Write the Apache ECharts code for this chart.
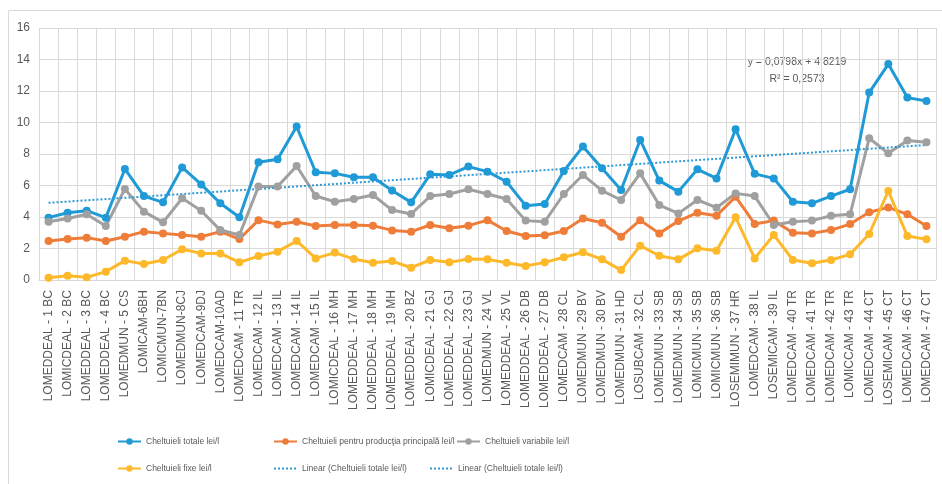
<!DOCTYPE html>
<html>
<head>
<meta charset="utf-8">
<script src="https://cdn.jsdelivr.net/npm/echarts@6/dist/echarts.min.js"></script>
<style>
  html, body { margin: 0; padding: 0; background: #fff; }
  #chart { width: 942px; height: 484px; }
</style>
</head>
<body>
<div id="chart"></div>
<script>
/* ---------------------------------------------------------------------- */
/*                      Cheltuieli lei/l pe ferme                          */
/* ---------------------------------------------------------------------- */

const farms = [
  'LOMEDDEAL - 1 BC', 'LOMICDEAL - 2 BC', 'LOMEDDEAL - 3 BC', 'LOMEDDEAL - 4 BC',
  'LOMEDMUN - 5 CS', 'LOMICAM-6BH', 'LOMICMUN-7BN', 'LOMEDMUN-8CJ', 'LOMEDCAM-9DJ',
  'LOMEDCAM-10AD', 'LOMEDCAM - 11 TR', 'LOMEDCAM - 12 IL', 'LOMEDCAM - 13 IL',
  'LOMEDCAM - 14 IL', 'LOMEDCAM - 15 IL', 'LOMICDEAL - 16 MH', 'LOMEDDEAL - 17 MH',
  'LOMEDDEAL - 18 MH', 'LOMEDDEAL - 19 MH', 'LOMEDDEAL - 20 BZ', 'LOMICDEAL - 21 GJ',
  'LOMEDDEAL - 22 GJ', 'LOMEDDEAL - 23 GJ', 'LOMEDMUN - 24 VL', 'LOMEDDEAL - 25 VL',
  'LOMEDDEAL - 26 DB', 'LOMEDDEAL - 27 DB', 'LOMEDCAM - 28 CL', 'LOMEDMUN - 29 BV',
  'LOMEDMUN - 30 BV', 'LOMEDMUN - 31 HD', 'LOSUBCAM - 32 CL', 'LOMEDMUN - 33 SB',
  'LOMEDMUN - 34 SB', 'LOMICMUN - 35 SB', 'LOMICMUN - 36 SB', 'LOSEMIMUN - 37 HR',
  'LOMEDCAM - 38 IL', 'LOSEMICAM - 39 IL', 'LOMEDCAM - 40 TR', 'LOMEDCAM - 41 TR',
  'LOMEDCAM - 42 TR', 'LOMICCAM - 43 TR', 'LOMEDCAM - 44 CT', 'LOSEMICAM - 45 CT',
  'LOMEDCAM - 46 CT', 'LOMEDCAM - 47 CT'
];

const totalCosts = [
  3.96, 4.27, 4.40, 3.96, 7.05, 5.33, 4.93, 7.15, 6.07, 4.87,
  3.98, 7.47, 7.66, 9.74, 6.84, 6.77, 6.52, 6.52, 5.68, 4.93,
  6.71, 6.67, 7.20, 6.88, 6.24, 4.72, 4.83, 6.92, 8.47, 7.09,
  5.71, 8.89, 6.31, 5.61, 7.03, 6.45, 9.57, 6.74, 6.45, 4.97,
  4.87, 5.33, 5.76, 11.90, 13.71, 11.58, 11.37
];

const mainProductionCosts = [
  2.48, 2.60, 2.69, 2.48, 2.75, 3.07, 2.96, 2.86, 2.75, 3.07,
  2.60, 3.80, 3.53, 3.70, 3.43, 3.49, 3.49, 3.45, 3.15, 3.07,
  3.49, 3.28, 3.45, 3.80, 3.11, 2.79, 2.84, 3.11, 3.91, 3.64,
  2.75, 3.80, 2.96, 3.74, 4.27, 4.08, 5.29, 3.56, 3.77, 3.00,
  2.96, 3.17, 3.55, 4.30, 4.61, 4.17, 3.43
];

const variableCosts = [
  3.70, 3.91, 4.17, 3.43, 5.78, 4.34, 3.66, 5.19, 4.40, 3.17,
  2.86, 5.93, 5.93, 7.24, 5.33, 4.97, 5.14, 5.40, 4.44, 4.19,
  5.33, 5.46, 5.76, 5.46, 5.14, 3.77, 3.70, 5.46, 6.67, 5.67,
  5.08, 6.77, 4.76, 4.23, 5.08, 4.59, 5.50, 5.33, 3.49, 3.70,
  3.77, 4.08, 4.17, 9.00, 8.04, 8.85, 8.74
];

const fixedCosts = [
  0.15, 0.27, 0.17, 0.53, 1.23, 1.02, 1.27, 1.95, 1.69, 1.69,
  1.12, 1.52, 1.80, 2.48, 1.37, 1.74, 1.33, 1.10, 1.20, 0.78,
  1.27, 1.12, 1.33, 1.31, 1.10, 0.89, 1.12, 1.44, 1.76, 1.31,
  0.63, 2.18, 1.54, 1.31, 2.01, 1.86, 3.98, 1.37, 2.86, 1.27,
  1.06, 1.27, 1.63, 2.92, 5.65, 2.79, 2.58
];

// linear trend of total costs, value at first and last farm
const trendStart = 4.90;
const trendEnd = 8.57;
const trendEquation = 'y = 0,0798x + 4,8219';
const trendR2 = 'R² = 0,2573';

const yTicks = { min: 0, max: 16, step: 2 };

const NAME_TOTAL = 'Cheltuieli totale lei/l';
const NAME_MAIN = 'Cheltuieli pentru producţia principală lei/l';
const NAME_VAR = 'Cheltuieli variabile lei/l';
const NAME_FIXED = 'Cheltuieli fixe lei/l';
const NAME_TREND = 'Linear (Cheltuieli totale lei/l)';

const textColor = '#595959';
const gridColor = '#d9d9d9';

const chart = echarts.init(document.getElementById('chart'));

const lineSeries = (name, data, color) => ({
  name,
  type: 'line',
  data,
  symbol: 'circle',
  symbolSize: 8,
  itemStyle: { color },
  lineStyle: { color, width: 3 },
  emphasis: { disabled: true }
});

const legendItem = (item, left, top) => ({
  data: [item],
  left,
  top,
  itemWidth: 23,
  itemHeight: 8,
  padding: 0,
  selectedMode: false,
  textStyle: {
    color: textColor,
    fontFamily: 'Liberation Sans',
    fontSize: 8.5
  }
});

// trend legend entry: dotted line only, no marker
const trendLegend = { name: NAME_TREND, itemStyle: { opacity: 0 } };

chart.setOption({
  animation: false,
  textStyle: { fontFamily: 'Liberation Sans' },
  grid: {
    left: 39,
    right: 6,
    top: 28,
    bottom: 204,
    containLabel: false
  },
  graphic: [
    {
      type: 'rect',
      shape: { x: 8.5, y: 10.5, width: 950, height: 490 },
      style: { fill: 'none', stroke: gridColor, lineWidth: 1 },
      silent: true,
      z: -1
    },
    {
      type: 'text',
      x: 797,
      y: 62,
      style: {
        text: trendEquation,
        fill: textColor,
        font: '10.5px "Liberation Sans"',
        align: 'center',
        verticalAlign: 'middle'
      }
    },
    {
      type: 'text',
      x: 797,
      y: 79,
      style: {
        text: trendR2,
        fill: textColor,
        font: '10.5px "Liberation Sans"',
        align: 'center',
        verticalAlign: 'middle'
      }
    }
  ],
  legend: [
    legendItem(NAME_TOTAL, 117, 437),
    legendItem(NAME_MAIN, 273, 437),
    legendItem(NAME_VAR, 456, 437),
    legendItem(NAME_FIXED, 117, 464),
    legendItem(trendLegend, 273, 464),
    legendItem(trendLegend, 429, 464)
  ],
  xAxis: {
    type: 'category',
    data: farms,
    boundaryGap: true,
    axisTick: { show: false },
    axisLine: { lineStyle: { color: gridColor, width: 1 } },
    splitLine: {
      show: true,
      interval: 0,
      lineStyle: { color: gridColor, width: 1 }
    },
    axisLabel: {
      interval: 0,
      rotate: 90,
      margin: 10,
      color: textColor,
      fontSize: 12,
      fontFamily: 'Liberation Sans'
    }
  },
  yAxis: {
    type: 'value',
    min: yTicks.min,
    max: yTicks.max,
    interval: yTicks.step,
    axisLine: { show: false },
    axisTick: { show: false },
    splitLine: { lineStyle: { color: gridColor, width: 1 } },
    axisLabel: {
      color: textColor,
      fontSize: 12,
      margin: 9,
      fontFamily: 'Liberation Sans'
    }
  },
  series: [
    lineSeries(NAME_TOTAL, totalCosts, '#1f9ad6'),
    lineSeries(NAME_MAIN, mainProductionCosts, '#ef7d3a'),
    lineSeries(NAME_VAR, variableCosts, '#a0a0a0'),
    lineSeries(NAME_FIXED, fixedCosts, '#fdb92a'),
    {
      name: NAME_TREND,
      type: 'line',
      data: [
        [farms[0], trendStart],
        [farms[farms.length - 1], trendEnd]
      ],
      symbol: 'none',
      itemStyle: { color: '#2e9bd6' },
      lineStyle: { color: '#2e9bd6', width: 2, type: [2, 2] },
      emphasis: { disabled: true },
      z: 3
    }
  ]
});
</script>
</body>
</html>
